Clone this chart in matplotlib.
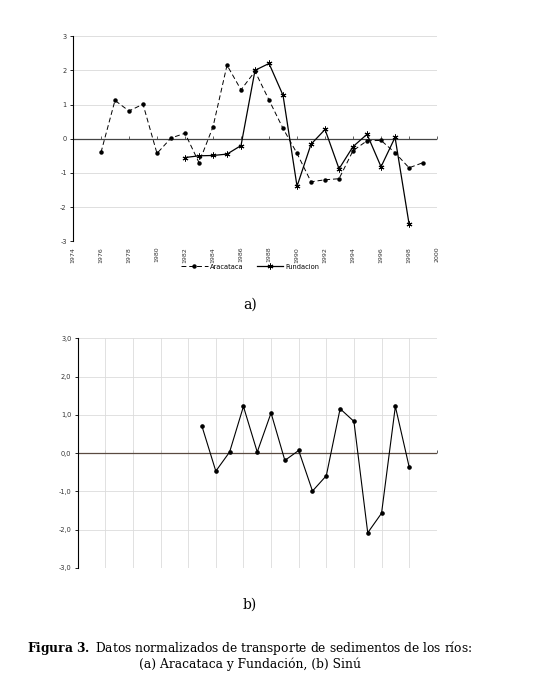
import numpy as np
import matplotlib
matplotlib.use("Agg")
import matplotlib.pyplot as plt

plt.rcParams["mathtext.fontset"] = "dejavuserif"

# Aracataca y Fundacion (a)
years_ara = list(range(1976, 2000))
ara = [-0.40, 1.12, 0.81, 1.01, -0.43, 0.02, 0.16, -0.70, 0.35, 2.15, 1.43, 1.97,
       1.13, 0.30, -0.43, -1.26, -1.20, -1.17, -0.35, -0.06, -0.05, -0.41, -0.85, -0.70]
years_fun = list(range(1982, 1999))
fun = [-0.55, -0.50, -0.49, -0.45, -0.20, 2.00, 2.20, 1.27, -1.39, -0.16, 0.27,
       -0.88, -0.23, 0.13, -0.82, 0.04, -2.49]

# Sinu (b)
years_sinu = list(range(1983, 1999))
sinu = [0.70, -0.47, 0.03, 1.22, 0.03, 1.05, -0.19, 0.07, -0.99, -0.59, 1.16, 0.83,
        -2.08, -1.57, 1.22, -0.36]

xticks = list(range(1974, 2001, 2))
yticks = [-3, -2, -1, 0, 1, 2, 3]

fig = plt.figure(figsize=(5.55, 6.84), dpi=100)

# ---- chart a
ax1 = fig.add_axes([0.1315, 0.6472, 0.656, 0.300])
ax1.plot(years_ara, ara, color="black", lw=0.7, ls=(0, (5, 3)), marker="o",
         ms=2.2, label="Aracataca")
ax1.plot(years_fun, fun, color="black", lw=0.9, marker=(6, 2, 0), ms=4.2,
         mew=0.7, label="Fundacion")
ax1.set_xlim(1974, 2000)
ax1.set_ylim(-3, 3)
ax1.set_yticks(yticks)
ax1.set_yticklabels([str(v) for v in yticks], fontsize=4.8, color="#333333")
ax1.set_xticks(xticks)
ax1.set_xticklabels([str(v) for v in xticks], fontsize=4.5, rotation=90, color="#333333")
ax1.tick_params(axis="x", length=0, pad=4)
ax1.tick_params(axis="y", length=2.5, width=0.6, pad=2)
ax1.grid(axis="y", color="#d9d9d9", lw=0.6)
ax1.set_axisbelow(True)
for s in ["top", "right", "bottom"]:
    ax1.spines[s].set_visible(False)
ax1.spines["left"].set_linewidth(0.8)
ax1.axhline(0, color="#444444", lw=0.9, zorder=1)
sec1 = ax1.secondary_xaxis(0, transform=ax1.transData)
sec1.set_xticks(xticks)
sec1.set_xticklabels([])
sec1.tick_params(length=2, width=0.6, direction="in", color="#444444")
sec1.spines["bottom"].set_visible(False)
ax1.legend(loc="upper center", bbox_to_anchor=(0.487, -0.08), ncol=2, frameon=False,
           fontsize=4.8, handlelength=4, columnspacing=2, handletextpad=0.3)

fig.text(0.45, 1 - 305 / 684, "a)", fontsize=10, family="DejaVu Serif",
         ha="center", va="center")

# ---- chart b
ax2 = fig.add_axes([0.140, 0.1696, 0.647, 0.3358])
ax2.plot(years_sinu, sinu, color="black", lw=0.8, marker="o", ms=2.3)
ax2.set_xlim(1974, 2000)
ax2.set_ylim(-3, 3)
ax2.set_yticks(yticks)
ax2.set_yticklabels([f"{v:.1f}".replace(".", ",") for v in yticks], fontsize=4.8,
                    color="#333333")
ax2.set_xticks(xticks)
ax2.set_xticklabels([])
ax2.tick_params(axis="x", length=0)
ax2.tick_params(axis="y", length=2.5, width=0.6, pad=2)
ax2.grid(color="#dcdcdc", lw=0.6)
ax2.set_axisbelow(True)
for s in ["top", "right", "bottom"]:
    ax2.spines[s].set_visible(False)
ax2.spines["left"].set_linewidth(0.8)
ax2.axhline(0, color="#5a4a40", lw=0.9, zorder=1)
sec2 = ax2.secondary_xaxis(0, transform=ax2.transData)
sec2.set_xticks(xticks)
sec2.set_xticklabels([])
sec2.tick_params(length=2, width=0.6, direction="in", color="#444444")
sec2.spines["bottom"].set_visible(False)

fig.text(0.45, 1 - 605 / 684, "b)", fontsize=10, family="DejaVu Serif",
         ha="center", va="center")

# ---- caption
fig.text(0.45, 1 - 648 / 684,
         r"$\mathbf{Figura\ 3.}$ Datos normalizados de transporte de sedimentos de los ríos:",
         fontsize=8.8, family="DejaVu Serif", ha="center", va="center")
fig.text(0.45, 1 - 664 / 684, "(a) Aracataca y Fundación, (b) Sinú",
         fontsize=8.8, family="DejaVu Serif", ha="center", va="center")

fig.savefig("out.png", dpi=100)
